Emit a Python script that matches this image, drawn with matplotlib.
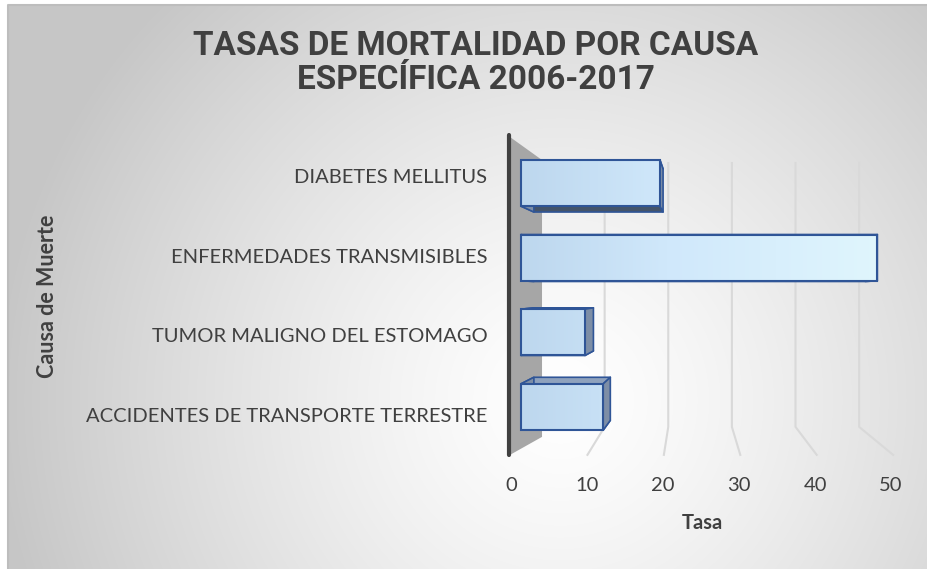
import numpy as np
import matplotlib.pyplot as plt
from matplotlib.patches import Polygon
from matplotlib.colors import LinearSegmentedColormap

# Data
causas = ['DIABETES MELLITUS', 'ENFERMEDADES TRANSMISIBLES',
          'TUMOR MALIGNO DEL ESTOMAGO', 'ACCIDENTES DE TRANSPORTE TERRESTRE']
tasas = [19.1, 49.0, 8.8, 11.3]
ticks = [0, 10, 20, 30, 40, 50]

W, H = 927, 569
fig = plt.figure(figsize=(W / 100, H / 100), dpi=100)

# Chart area background (radial grey gradient)
bg = fig.add_axes([8 / W, 0, 1 - 8 / W, 1 - 5 / H])
yy, xx = np.mgrid[5:H, 8:W]
t = np.clip(np.hypot(xx - 560, yy - 400) / 560, 0, 1) ** 1.3
g = 1 - 0.22 * t
bg.imshow(np.dstack([g, g, g]), aspect='auto', extent=(0, 1, 0, 1))
# only the top and left edges of the frame are inside the picture
bg.plot([0, 0, 1], [0, 1, 1], transform=bg.transAxes, color='#bdbdbd', lw=1.5,
        clip_on=False)
bg.axis('off')

# Plot area: value u sits at pixel 521 + 7.27*u, category i at pixel 183 + 74.7*i
ax = fig.add_axes([500 / W, 1 - 460 / H, 405 / W, 330 / H])
ax.patch.set_alpha(0)
xlim = (-2.89, 52.8)
ylim = (3.71, -0.71)


def px2u(px):
    return (px - 521) / 7.27


def py2y(py):
    return (py - 183) / 74.7


# perspective: back faces shrink toward a vanishing point
vx, vy, s = px2u(705), py2y(290), 0.93

# side wall
wall = [(px2u(510), py2y(137)), (px2u(542), py2y(160)),
        (px2u(542), py2y(437)), (px2u(510), py2y(455))]
ax.add_patch(Polygon(wall, closed=True, fc='#a6a6a6', ec='none', zorder=1))
ax.plot([px2u(509), px2u(509)], [py2y(135), py2y(455)], color='#404040',
        lw=3, solid_capstyle='round', zorder=1.5)

# gridlines: back wall then floor
for v in ticks[1:]:
    xb = px2u(541 + 6.36 * v)
    xf = px2u(511 + 7.64 * v)
    ax.plot([xb, xb, xf], [py2y(163), py2y(427), py2y(455)],
            color='#d9d9d9', lw=1.5, zorder=2)

# bars
bar_h = 0.62
cmap = LinearSegmentedColormap.from_list(
    'barra', [(0, '#bdd7ee'), (0.4, '#d0e8fb'), (1, '#e0f6fd')])
grad = np.linspace(0, 1, 256)[None, :]
faces = {'top': '#8fa2bd', 'bottom': '#44546a', 'right': '#7d8ea6', 'left': '#7d8ea6'}

bars = ax.barh(range(len(causas)), tasas, height=bar_h, left=0,
               facecolor='none', edgecolor='#2f5597', lw=1.5, zorder=5)
for i, (bar, val) in enumerate(zip(bars, tasas)):
    x0, x1 = 0, val
    y0, y1 = i - bar_h / 2, i + bar_h / 2
    front = {'tl': (x0, y0), 'tr': (x1, y0), 'br': (x1, y1), 'bl': (x0, y1)}
    back = {k: (vx + s * (px - vx), vy + s * (py - vy)) for k, (px, py) in front.items()}
    sides = {'top': ('tl', 'tr'), 'bottom': ('bl', 'br'),
             'right': ('tr', 'br'), 'left': ('tl', 'bl')}
    for name, (a, b) in sides.items():
        quad = [front[a], front[b], back[b], back[a]]
        ax.add_patch(Polygon(quad, closed=True, fc=faces[name], ec='#2f5597',
                             lw=1.2, joinstyle='round', zorder=3))
    im = ax.imshow(grad, cmap=cmap, aspect='auto', extent=(0, 50, ylim[0], ylim[1]),
                   zorder=4)
    im.set_clip_path(bar)

ax.set_xlim(*xlim)
ax.set_ylim(*ylim)

# category labels sit on the front plane
label_pos = [vy + 1.066 * (i - vy) for i in range(len(causas))]
ax.set_yticks(label_pos, causas)
ax.tick_params(axis='y', length=0, pad=9, labelsize=14.5, labelcolor='#404040')
ax.set_xticks([])
for sp in ax.spines.values():
    sp.set_visible(False)

# value axis is read along the front edge of the floor
sec = ax.secondary_xaxis('bottom', functions=(lambda u: (10 + 7.27 * u) / 7.6,
                                               lambda v: (7.6 * v - 10) / 7.27))
sec.set_xticks(ticks)
sec.tick_params(length=0, pad=12, labelsize=14.5, labelcolor='#404040')
sec.spines['bottom'].set_visible(False)
sec.set_xlabel('Tasa', fontsize=14.5, fontweight='bold', color='#404040', labelpad=14)

for lab in ax.get_yticklabels() + sec.get_xticklabels():
    lab.set_family('Lato')
sec.xaxis.label.set_family('Lato')

fig.text(48 / W, 1 - 296 / H, 'Causa de Muerte', rotation=90, ha='center', va='center',
         fontsize=15.5, fontweight='bold', color='#404040', family='Lato')

fig.text(476 / W, 1 - 63 / H, 'TASAS DE MORTALIDAD POR CAUSA\nESPECÍFICA 2006-2017',
         ha='center', va='center', fontsize=24, fontweight='bold', color='#404040',
         family='Roboto', linespacing=1.05)

fig.savefig('out.png', dpi=100)
